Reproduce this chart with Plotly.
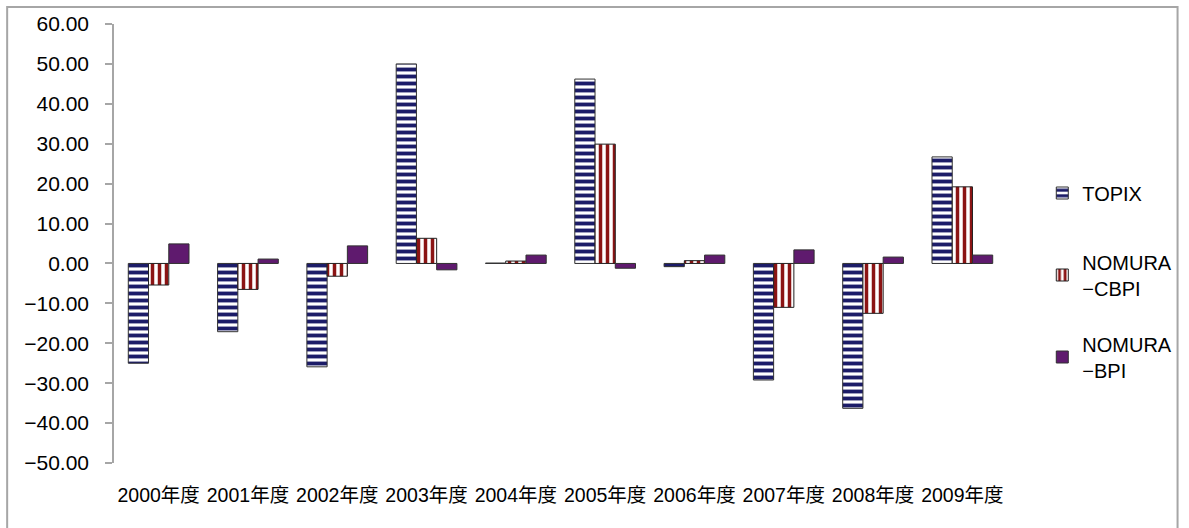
import numpy as np
import plotly.graph_objects as go

# Fiscal-year returns (%) by index
years = ["2000年度", "2001年度", "2002年度", "2003年度", "2004年度",
         "2005年度", "2006年度", "2007年度", "2008年度", "2009年度"]
topix = [-25.0, -17.1, -25.9, 50.0, 0.1, 46.2, -0.8, -29.2, -36.3, 26.7]
nomura_cbpi = [-5.4, -6.5, -3.2, 6.3, 0.6, 29.9, 0.7, -11.0, -12.5, 19.2]
nomura_bpi = [4.9, 1.1, 4.4, -1.6, 2.1, -1.2, 2.1, 3.4, 1.6, 2.1]
series_names = ["TOPIX", "NOMURA<br>−CBPI", "NOMURA<br>−BPI"]

FONT = "Liberation Sans, Arial, Noto Sans CJK JP, sans-serif"
NAVY = "#1c1c68"
RED = "#8b1414"
PURPLE = "#5f1a6e"
AXIS_GRAY = "#a6a6a6"

W, H = 1189, 528
L, R, T, B = 114, 164, 24, 65
pw, ph = W - L - R, H - T - B

fig = go.Figure()

fig.add_trace(go.Bar(
    x=years, y=topix, name=series_names[0], legend="legend",
    marker=dict(color="white", line=dict(color="#303030", width=1),
                pattern=dict(shape="-", fgcolor=NAVY, bgcolor="white",
                             size=7, solidity=0.55, fillmode="replace")),
))
fig.add_trace(go.Bar(
    x=years, y=nomura_cbpi, name=series_names[1], legend="legend2",
    marker=dict(color="white", line=dict(color="#202020", width=1),
                pattern=dict(shape="|", fgcolor=RED, bgcolor="white",
                             size=7, solidity=0.5, fillmode="replace")),
))
fig.add_trace(go.Bar(
    x=years, y=nomura_bpi, name=series_names[2], legend="legend3",
    marker=dict(color=PURPLE, line=dict(color="#303030", width=1)),
))

n = len(years)
y_min, y_max = -50, 60


def legend_at(center_px):
    """Legend box placed with its middle at a given pixel row."""
    return dict(
        x=(1061 - L) / pw, xanchor="left",
        y=(H - B - center_px) / ph, yanchor="middle",
        font=dict(family=FONT, size=20, color="black"),
        bgcolor="rgba(0,0,0,0)", itemwidth=30,
    )


fig.update_layout(
    width=W, height=H,
    margin=dict(l=L, r=R, t=T, b=B, pad=0),
    paper_bgcolor="white", plot_bgcolor="white",
    font=dict(family=FONT, size=20, color="black"),
    barmode="group", bargap=0.32, bargroupgap=0.0,
    showlegend=True,
    legend=legend_at(193),
    legend2=legend_at(275),
    legend3=legend_at(357),
    xaxis=dict(
        type="category", range=[-0.5, n - 0.5],
        showline=False, ticks="", showgrid=False, zeroline=False,
        tickfont=dict(family=FONT, size=19.5, color="black"),
        ticklabelstandoff=18,
    ),
    # baseline at zero with ticks on category boundaries
    xaxis2=dict(
        overlaying="x", anchor="free",
        position=(0 - y_min) / (y_max - y_min),
        type="linear", range=[-0.5, n - 0.5],
        tickmode="array", tickvals=list(np.arange(n + 1) - 0.5),
        ticks="outside", ticklen=5, tickcolor=AXIS_GRAY, tickwidth=1.5,
        showticklabels=False, showline=True, linecolor=AXIS_GRAY,
        linewidth=1.5, showgrid=False, zeroline=False,
    ),
    yaxis=dict(
        range=[y_min, y_max], dtick=10, tickformat=".2f",
        showline=True, linecolor=AXIS_GRAY, linewidth=1.5,
        ticks="outside", ticklen=7, tickcolor=AXIS_GRAY, tickwidth=1.5,
        showgrid=False, zeroline=False,
        tickfont=dict(family=FONT, size=21, color="black"),
        ticklabelstandoff=12,
    ),
    shapes=[dict(
        type="rect", xref="paper", yref="paper",
        x0=(5 - L) / pw, x1=(W + 10 - L) / pw,
        y0=(H - B - (H + 10)) / ph, y1=(H - B - 7) / ph,
        line=dict(color=AXIS_GRAY, width=2), fillcolor="rgba(0,0,0,0)",
        layer="below",
    )],
)

fig.write_html("out.html")
